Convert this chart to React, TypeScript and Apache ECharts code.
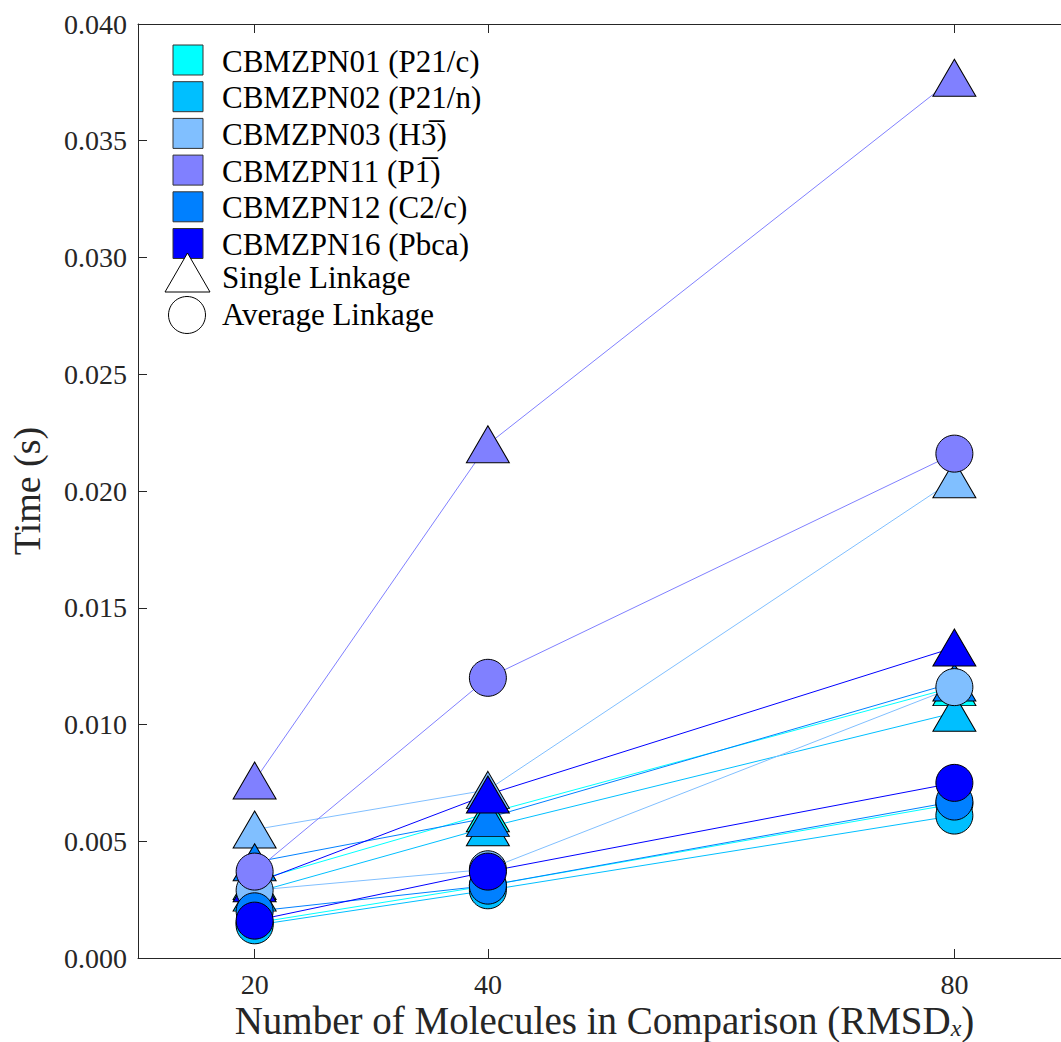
import React, { useEffect, useRef } from 'react';
import * as echarts from 'echarts';

const xValues = [20, 40, 80];
const xTickValues = [20, 40, 80];
const datasetNames = [
  'CBMZPN01 (P21/c)',
  'CBMZPN02 (P21/n)',
  'CBMZPN03 (H3\u0305)',
  'CBMZPN11 (P1\u0305)',
  'CBMZPN12 (C2/c)',
  'CBMZPN16 (Pbca)',
];
const datasetColors = ['#00FFFF', '#00BFFF', '#80BFFF', '#8080FF', '#0080FF', '#0000FF'];
// Single linkage times (s) at 20, 40, 80 molecules
const singleLinkage = [
  [0.0033, 0.0062, 0.0116],
  [0.0028, 0.0056, 0.0105],
  [0.0055, 0.0072, 0.0205],
  [0.0076, 0.0220, 0.0377],
  [0.0041, 0.0060, 0.0118],
  [0.0032, 0.0070, 0.0133],
];
// Average linkage times (s) at 20, 40, 80 molecules
const averageLinkage = [
  [0.0015, 0.0031, 0.0066],
  [0.0014, 0.0029, 0.0061],
  [0.0029, 0.0038, 0.0116],
  [0.0037, 0.0120, 0.0216],
  [0.0020, 0.0031, 0.0067],
  [0.0016, 0.0037, 0.0075],
];
const linkageNames = ['Single Linkage', 'Average Linkage'];

const FONT = '"Liberation Serif", "Times New Roman", serif';
const AXIS = '#262626';

export default function App() {
  const ref = useRef<HTMLDivElement>(null);
  useEffect(() => {
    if (!ref.current) return;
    const chart = echarts.init(ref.current, undefined, { renderer: 'svg' });

    const series: any[] = [];
    const groups = [singleLinkage, averageLinkage];
    groups.forEach((vals, g) => {
      vals.forEach((row, i) => {
        series.push({
          type: 'line',
          name: datasetNames[i] + ' ' + linkageNames[g] + ' line',
          data: xValues.map((x, j) => [x, row[j]]),
          showSymbol: false,
          symbol: 'none',
          lineStyle: { color: datasetColors[i], width: 1 },
          z: 2,
          silent: true,
        });
      });
    });
    groups.forEach((vals, g) => {
      vals.forEach((row, i) => {
        series.push({
          type: 'scatter',
          name: datasetNames[i] + ' ' + linkageNames[g],
          data: xValues.map((x, j) => [x, row[j]]),
          symbol: g === 0 ? 'triangle' : 'circle',
          symbolSize: g === 0 ? [43, 37] : 37,
          itemStyle: { color: datasetColors[i], borderColor: '#000', borderWidth: 1, opacity: 1 },
          z: 3,
        });
      });
    });

    const graphics: any[] = [];
    const rowY0 = 60;
    const rowStep = 36.7;
    const legText = (text: string, y: number) => ({
      type: 'text',
      x: 222,
      y,
      style: {
        text,
        fontFamily: FONT,
        fontSize: 31,
        lineHeight: 30,
        fill: '#000',
        verticalAlign: 'middle',
        align: 'left',
      },
      z: 10,
    });
    datasetNames.forEach((n, i) => {
      const cy = rowY0 + i * rowStep;
      graphics.push({
        type: 'rect',
        shape: { x: 173, y: cy - 15, width: 30, height: 30 },
        style: { fill: datasetColors[i], stroke: '#333', lineWidth: 1 },
        z: 10,
      });
      graphics.push(legText(n, cy + 1));
    });
    graphics.push({
      type: 'polygon',
      shape: { points: [[187.5, 253], [165, 292], [210, 292]] },
      style: { fill: '#fff', stroke: '#000', lineWidth: 1 },
      z: 10,
    });
    graphics.push(legText(linkageNames[0], 277));
    graphics.push({
      type: 'circle',
      shape: { cx: 187, cy: 315, r: 18.5 },
      style: { fill: '#fff', stroke: '#000', lineWidth: 1 },
      z: 10,
    });
    graphics.push(legText(linkageNames[1], 314));

    chart.setOption({
      animation: false,
      backgroundColor: '#fff',
      grid: { left: 138, right: -10, top: 24, bottom: 84, containLabel: false, outerBoundsMode: 'none' },
      xAxis: [
        {
          type: 'value',
          min: 10,
          max: 90,
          position: 'bottom',
          name: 'Number of Molecules in Comparison (RMSD{sub|x})',
          nameLocation: 'middle',
          nameGap: 42,
          nameMoveOverlap: false,
          nameTextStyle: {
            fontFamily: FONT,
            fontSize: 39,
            lineHeight: 40,
            color: AXIS,
            rich: {
              sub: { fontFamily: FONT, fontSize: 24, lineHeight: 22, fontStyle: 'italic', color: AXIS, verticalAlign: 'bottom' },
            },
          },
          axisLine: { show: true, lineStyle: { color: AXIS, width: 1 } },
          axisTick: { show: true, inside: true, length: 9, customValues: xTickValues, lineStyle: { color: AXIS } },
          axisLabel: { show: true, customValues: xTickValues, fontFamily: FONT, fontSize: 28, lineHeight: 24, color: AXIS, margin: 14 },
          splitLine: { show: false },
        },
        {
          type: 'value',
          min: 10,
          max: 90,
          position: 'top',
          axisLine: { show: true, lineStyle: { color: AXIS, width: 1 } },
          axisTick: { show: true, inside: true, length: 9, customValues: xTickValues, lineStyle: { color: AXIS } },
          axisLabel: { show: false },
          splitLine: { show: false },
        },
      ],
      yAxis: {
        type: 'value',
        min: 0,
        max: 0.04,
        interval: 0.005,
        name: 'Time (s)',
        nameLocation: 'middle',
        nameGap: 92,
        nameMoveOverlap: false,
        nameTextStyle: { fontFamily: FONT, fontSize: 38, color: AXIS },
        axisLine: { show: true, lineStyle: { color: AXIS, width: 1 } },
        axisTick: { show: true, inside: true, length: 9, lineStyle: { color: AXIS } },
        axisLabel: {
          fontFamily: FONT,
          fontSize: 28,
          color: AXIS,
          margin: 11,
          formatter: (v: number) => v.toFixed(3),
        },
        splitLine: { show: false },
      },
      series,
      graphic: graphics,
    });
    return () => chart.dispose();
  }, []);
  return <div ref={ref} style={{ position: 'fixed', left: 0, top: 0, width: 1061, height: 1042 }} />;
}
